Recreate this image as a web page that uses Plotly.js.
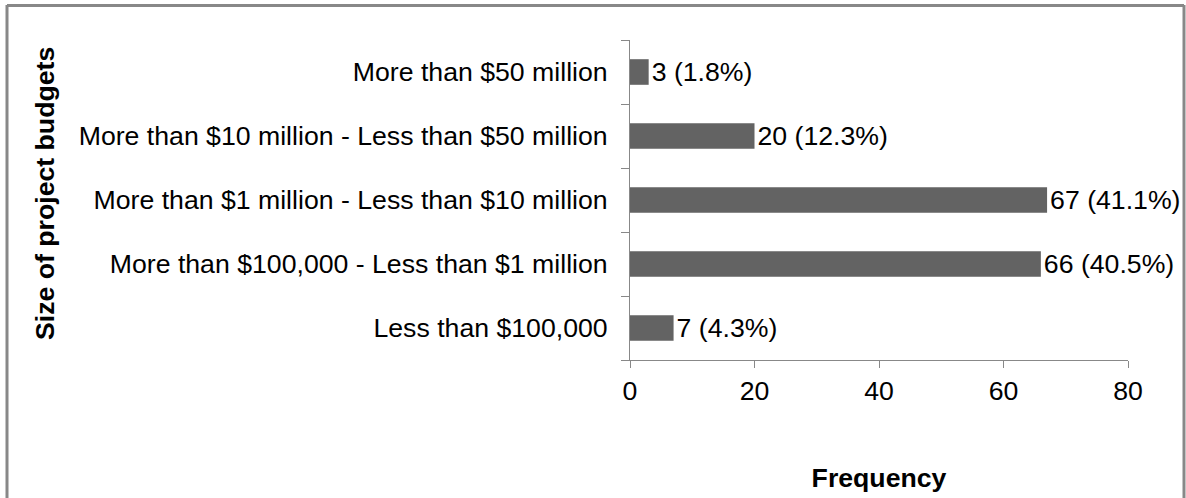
<!DOCTYPE html>
<html>
<head>
<meta charset="utf-8">
<script src="https://cdn.plot.ly/plotly-3.0.1.min.js"></script>
<style>html,body{margin:0;padding:0;background:#fff;}#chart{width:1186px;height:498px;}</style>
</head>
<body>
<div id="chart"></div>
<script>
var categories = ["Less than $100,000", "More than $100,000 - Less than $1 million", "More than $1 million - Less than $10 million", "More than $10 million - Less than $50 million", "More than $50 million"];
var frequency = [7, 66, 67, 20, 3];
var percent = ["4.3%", "40.5%", "41.1%", "12.3%", "1.8%"];
var labels = frequency.map(function(v, i){ return v + " (" + percent[i] + ")"; });

var FONT = "Liberation Sans, Arial, sans-serif";
var FS = 26.67;
var trace = {
  type: "bar",
  orientation: "h",
  y: categories,
  x: frequency,
  text: labels,
  textposition: "outside",
  constraintext: "none",
  cliponaxis: false,
  textfont: {family: FONT, size: FS, color: "#000"},
  marker: {color: "#636363"},
  hoverinfo: "none"
};
var L = 630, R = 58, T = 40, B = 138, W = 1186 - L - R, H = 498 - T - B;
function px(x){ return (x - L) / W; }
function py(y){ return (498 - B - y) / H; }
var layout = {
  width: 1186, height: 498,
  margin: {l: L, r: R, t: T, b: B, pad: 0},
  paper_bgcolor: "#fff", plot_bgcolor: "#fff",
  bargap: 0.6,
  showlegend: false,
  font: {family: FONT, size: FS, color: "#000"},
  xaxis: {
    range: [0, 80], dtick: 20, tick0: 0,
    showgrid: false, zeroline: false,
    showline: true, linecolor: "#888", linewidth: 1,
    ticks: "outside", ticklen: 7, tickcolor: "#888",
    tickfont: {family: FONT, size: FS, color: "#000"},
    title: {text: "<b>Frequency</b>", font: {family: FONT, size: FS, color: "#000"}, standoff: 63}
  },
  yaxis: {
    type: "category",
    showgrid: false, zeroline: false,
    showline: true, linecolor: "#888", linewidth: 1,
    ticks: "outside", ticklen: 8, tickcolor: "#888",
    tickson: "boundaries",
    ticklabelstandoff: 16,
    tickfont: {family: FONT, size: FS, color: "#000"},
    title: {text: ""}
  },
  shapes: [
    {type: "line", xref: "paper", yref: "paper", x0: px(7), x1: px(7), y0: py(5), y1: py(510), line: {color: "#888", width: 3}},
    {type: "line", xref: "paper", yref: "paper", x0: px(7), x1: px(1184), y0: py(5.5), y1: py(5.5), line: {color: "#888", width: 3}},
    {type: "line", xref: "paper", yref: "paper", x0: px(1184), x1: px(1184), y0: py(5), y1: py(510), line: {color: "#888", width: 3}}
  ],
  annotations: [
    {text: "<b>Size of project budgets</b>", xref: "paper", yref: "paper", x: px(45), y: py(194), textangle: -90, showarrow: false, xanchor: "center", yanchor: "middle", font: {family: FONT, size: FS, color: "#000"}}
  ]
};
Plotly.newPlot("chart", [trace], layout, {displayModeBar: false, staticPlot: true});
</script>
</body>
</html>
